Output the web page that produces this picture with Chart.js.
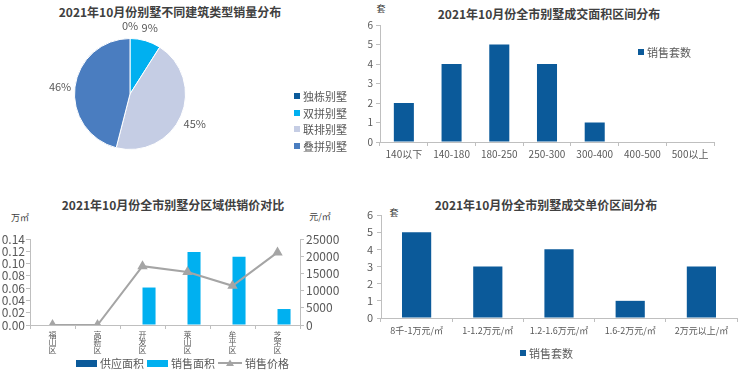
<!DOCTYPE html>
<html lang="zh-CN">
<head>
<meta charset="utf-8">
<script src="https://cdn.jsdelivr.net/npm/chart.js@4.4.1/dist/chart.umd.min.js"></script>
<style>
  html, body { margin: 0; padding: 0; background: #fff; }
  body { width: 740px; height: 384px; position: relative; overflow: hidden;
         font-family: 'Noto Sans CJK SC', 'Noto Sans', sans-serif; color: #595959; }
  canvas { position: absolute; }
  .titulo { position: absolute; font-size: 12px; font-weight: bold; color: #404040;
            white-space: nowrap; transform: translate(-50%, -50%); }
  .unidade { position: absolute; font-size: 9px; color: #404040; white-space: nowrap;
             transform: translate(-50%, -50%); }
  .legenda { position: absolute; font-size: 11px; color: #595959; white-space: nowrap; }
  .legenda .item { display: flex; align-items: center; height: 16.5px; }
  .legenda.linha { display: flex; align-items: center; }
  .legenda.linha .item { margin-right: 3px; }
  .marca { display: inline-block; margin-right: 3px; }
</style>
</head>
<body>

<div class="titulo" style="left:170px; top:11px">2021年10月份别墅不同建筑类型销量分布</div>
<div class="titulo" style="left:549px; top:13px">2021年10月份全市别墅成交面积区间分布</div>
<div class="titulo" style="left:173px; top:204px">2021年10月份全市别墅分区域供销价对比</div>
<div class="titulo" style="left:546px; top:204px">2021年10月份全市别墅成交单价区间分布</div>

<div class="unidade" style="left:381px; top:8px">套</div>
<div class="unidade" style="left:20px; top:217px">万㎡</div>
<div class="unidade" style="left:320px; top:216px">元/㎡</div>
<div class="unidade" style="left:394px; top:212px">套</div>

<canvas id="g1" width="370" height="192" style="left:0; top:0"></canvas>
<canvas id="g2" width="385" height="192" style="left:355px; top:0"></canvas>
<canvas id="g3" width="370" height="192" style="left:0; top:192px"></canvas>
<canvas id="g4" width="385" height="192" style="left:355px; top:192px"></canvas>

<div class="legenda" id="leg1" style="left:294px; top:88px"></div>
<div class="legenda" id="leg2" style="left:638px; top:44px"></div>
<div class="legenda linha" id="leg3" style="left:76px; top:355px"></div>
<div class="legenda" id="leg4" style="left:520px; top:345px"></div>

<script>
/* ---------- dados ---------- */
const TIPOS = ['独栋别墅', '双拼别墅', '联排别墅', '叠拼别墅'];
const PARTICIPACAO = [0, 9, 45, 46];

const FAIXAS_AREA = ['140以下', '140-180', '180-250', '250-300', '300-400', '400-500', '500以上'];
const VENDAS_POR_AREA = [2, 4, 5, 4, 1, 0, 0];

const DISTRITOS = ['福山区', '高新区', '开发区', '莱山区', '牟平区', '芝罘区'];
const AREA_OFERTA = [0, 0, 0, 0, 0, 0];
const AREA_VENDIDA = [0, 0, 0.061, 0.119, 0.111, 0.026];
const PRECO_VENDA = [0, 0, 17100, 15400, 11400, 21100];

const FAIXAS_PRECO = ['8千-1万元/㎡', '1-1.2万元/㎡', '1.2-1.6万元/㎡', '1.6-2万元/㎡', '2万元以上/㎡'];
const VENDAS_POR_PRECO = [5, 3, 4, 1, 3];

/* Paleta */
const CORES = {
  azulEscuro: '#0b5a9a',
  ciano: '#00b0f0',
  lilas: '#c5cde4',
  azul: '#4a7dc0',
  cinza: '#a5a5a5',
  eixo: '#bfbfbf',
  texto: '#595959'
};

Chart.defaults.animation = false;
Chart.defaults.font.family = "'Noto Sans CJK SC', 'Noto Sans', sans-serif";
Chart.defaults.color = CORES.texto;
Chart.defaults.plugins.legend.display = false;
Chart.defaults.plugins.tooltip.enabled = false;

const largura = w => scale => { scale.width = w; };
const altura = h => scale => { scale.height = h; };

/* Percentuais fora da pizza */
const rotulosPizza = {
  id: 'rotulosPizza',
  afterDatasetsDraw(chart) {
    const ctx = chart.ctx;
    ctx.save();
    ctx.font = "11px 'Noto Sans CJK SC', sans-serif";
    ctx.fillStyle = CORES.texto;
    ctx.textAlign = 'center';
    ctx.textBaseline = 'middle';
    chart.getDatasetMeta(0).data.forEach((arco, i) => {
      const p = arco.getProps(['x', 'y', 'startAngle', 'endAngle', 'outerRadius'], true);
      const meio = (p.startAngle + p.endAngle) / 2;
      const r = p.outerRadius + 15;
      ctx.fillText(PARTICIPACAO[i] + '%', p.x + Math.cos(meio) * r, p.y + Math.sin(meio) * r + 2);
    });
    ctx.restore();
  }
};

/* ============ PIZZA: TIPOS DE ARQUITETURA ============ */
const coresTipos = [CORES.azulEscuro, CORES.ciano, CORES.lilas, CORES.azul];
new Chart(document.getElementById('g1'), {
  type: 'pie',
  data: {
    labels: TIPOS,
    datasets: [{ data: PARTICIPACAO, backgroundColor: coresTipos, borderColor: '#fff', borderWidth: 1 }]
  },
  options: {
    responsive: false,
    devicePixelRatio: 1,
    layout: { padding: { left: 74, right: 184, top: 38, bottom: 42 } }
  },
  plugins: [rotulosPizza]
});

/* Eixos no estilo Excel: só a linha e as marcas, sem grade */
function eixoY(extra) {
  return Object.assign({
    beginAtZero: true,
    border: { color: CORES.eixo },
    grid: { drawOnChartArea: false, tickLength: 4, color: CORES.eixo }
  }, extra);
}
function eixoX(extra) {
  return Object.assign({
    border: { color: CORES.eixo },
    grid: { drawOnChartArea: false, offset: true, tickLength: 4, color: CORES.eixo }
  }, extra);
}

/* ============ BARRAS: FAIXA DE ÁREA ============ */
new Chart(document.getElementById('g2'), {
  type: 'bar',
  data: {
    labels: FAIXAS_AREA,
    datasets: [{ label: '销售套数', data: VENDAS_POR_AREA, backgroundColor: CORES.azulEscuro,
                 categoryPercentage: 1, barPercentage: 0.42 }]
  },
  options: {
    responsive: false,
    devicePixelRatio: 1,
    layout: { padding: { top: 25, right: 26, left: 0, bottom: 0 } },
    scales: {
      x: eixoX({ afterFit: altura(50), ticks: { autoSkip: false, maxRotation: 0, font: { size: 10 }, padding: 2 } }),
      y: eixoY({ max: 6, afterFit: largura(25), ticks: { autoSkip: false, stepSize: 1, font: { size: 10 }, padding: 3 } })
    }
  }
});

/* ============ OFERTA x VENDA x PREÇO POR DISTRITO ============ */
new Chart(document.getElementById('g3'), {
  type: 'bar',
  data: {
    labels: DISTRITOS,
    datasets: [
      { type: 'line', label: '销售价格', data: PRECO_VENDA, yAxisID: 'y1',
        borderColor: CORES.cinza, backgroundColor: CORES.cinza, borderWidth: 2,
        pointStyle: 'triangle', pointRadius: 4, order: 0 },
      { label: '供应面积', data: AREA_OFERTA, backgroundColor: CORES.azulEscuro,
        categoryPercentage: 0.58, barPercentage: 1, order: 1 },
      { label: '销售面积', data: AREA_VENDIDA, backgroundColor: CORES.ciano,
        categoryPercentage: 0.58, barPercentage: 1, order: 1 }
    ]
  },
  options: {
    responsive: false,
    devicePixelRatio: 1,
    layout: { padding: { top: 47, right: 0, left: 0, bottom: 0 } },
    scales: {
      x: eixoX({
        afterFit: altura(59),
        ticks: {
          autoSkip: false, maxRotation: 0, minRotation: 0, padding: 2,
          font: { size: 8, lineHeight: 0.95 },
          // rótulos verticais: um caractere por linha
          callback: (v, i) => DISTRITOS[i].split('')
        }
      }),
      y: eixoY({
        position: 'left', min: 0, max: 0.14, afterFit: largura(30),
        ticks: { autoSkip: false, stepSize: 0.02, font: { size: 12 }, padding: 1,
                 callback: v => v.toFixed(2) }
      }),
      y1: eixoY({
        position: 'right', min: 0, max: 25000, afterFit: largura(70),
        ticks: { autoSkip: false, stepSize: 5000, font: { size: 12 }, padding: 2,
                 callback: v => String(v) }
      })
    }
  }
});

/* ============ BARRAS: FAIXA DE PREÇO ============ */
new Chart(document.getElementById('g4'), {
  type: 'bar',
  data: {
    labels: FAIXAS_PRECO,
    datasets: [{ label: '销售套数', data: VENDAS_POR_PRECO, backgroundColor: CORES.azulEscuro,
                 categoryPercentage: 1, barPercentage: 0.41 }]
  },
  options: {
    responsive: false,
    devicePixelRatio: 1,
    layout: { padding: { top: 23, right: 3, left: 0, bottom: 0 } },
    scales: {
      x: eixoX({ afterFit: altura(66), ticks: { autoSkip: false, maxRotation: 0, font: { size: 9 }, padding: 3 } }),
      y: eixoY({ max: 6, afterFit: largura(26), ticks: { autoSkip: false, stepSize: 1, font: { size: 11 }, padding: 4 } })
    }
  }
});

/* ============ LEGENDAS ============ */
const caixa = (cor, w, h) =>
  `<span class="marca" style="width:${w}px;height:${h}px;background:${cor}"></span>`;
const marcaLinha = cor =>
  `<svg class="marca" width="24" height="8" viewBox="0 0 24 8">
     <line x1="0" y1="4" x2="24" y2="4" stroke="${cor}" stroke-width="2"/>
     <polygon points="12,0.5 16,7 8,7" fill="${cor}"/></svg>`;

document.getElementById('leg1').innerHTML = TIPOS
  .map((t, i) => `<div class="item">${caixa(coresTipos[i], 6, 6)}${t}</div>`).join('');
document.getElementById('leg2').innerHTML =
  `<div class="item">${caixa(CORES.azulEscuro, 6, 6)}销售套数</div>`;
document.getElementById('leg3').innerHTML =
  `<div class="item">${caixa(CORES.azulEscuro, 21, 7)}供应面积</div>` +
  `<div class="item">${caixa(CORES.ciano, 21, 7)}销售面积</div>` +
  `<div class="item">${marcaLinha(CORES.cinza)}销售价格</div>`;
document.getElementById('leg4').innerHTML =
  `<div class="item">${caixa(CORES.azulEscuro, 6, 6)}销售套数</div>`;
</script>
</body>
</html>
